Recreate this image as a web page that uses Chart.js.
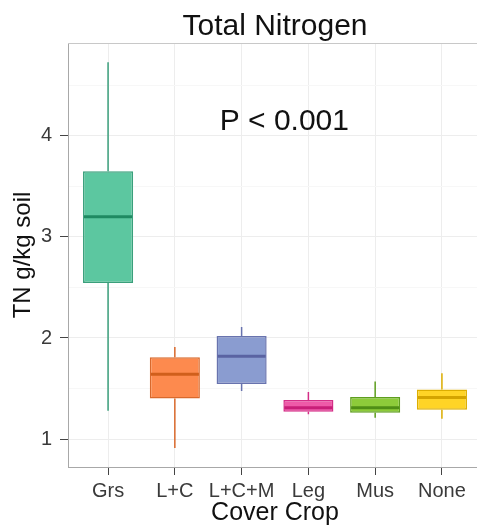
<!DOCTYPE html>
<html>
<head>
<meta charset="utf-8">
<script src="https://cdn.jsdelivr.net/npm/chart.js@4"></script>
<style>
  html, body { margin: 0; padding: 0; background: #fff; overflow: hidden; }
  #wrap { position: relative; width: 482px; height: 528px; }
</style>
</head>
<body>
<div id="wrap"><canvas id="boxChart"></canvas></div>
<script>
// categories and box plot statistics
var categories = ['Grs', 'L+C', 'L+C+M', 'Leg', 'Mus', 'None'];
var whiskerMax    = [4.73, 1.91, 2.11, 1.465, 1.57, 1.65];
var upperQuartile = [3.65, 1.81, 2.02, 1.385, 1.415, 1.49];
var medianValue   = [3.20, 1.64, 1.82, 1.31, 1.31, 1.41];
var lowerQuartile = [2.545, 1.40, 1.545, 1.27, 1.26, 1.29];
var whiskerMin    = [1.28, 0.91, 1.475, 1.245, 1.21, 1.20];

var yTicks = [1, 2, 3, 4];

var fillColors   = ['#5CC7A0', '#FD8A4E', '#8A9CD0', '#EE5AA8', '#8DCB3A', '#FFD426'];
var lineColors   = ['#3A9F7B', '#D9692C', '#6873AE', '#D42D87', '#5E9E1E', '#DDAE00'];
var medianColors = ['#1F8A62', '#D05F1C', '#5A63A2', '#C81E78', '#4F8E16', '#D4A400'];

var titleText = 'Total Nitrogen';
var pText = 'P < 0.001';
var pTextPos = { x: 2.64, y: 4.06 };

var FONT = '"Liberation Sans", Arial, sans-serif';

// whiskers behind the boxes, medians on top, plus title and p-value text
var boxPlotPlugin = {
    id: 'boxPlot',
    beforeDatasetsDraw: function(chart) {
        var ctx = chart.ctx;
        var y = chart.scales.y;
        var meta = chart.getDatasetMeta(0);
        ctx.save();
        ctx.lineWidth = 1.5;
        meta.data.forEach(function(bar, i) {
            ctx.strokeStyle = lineColors[i];
            ctx.beginPath();
            ctx.moveTo(bar.x, y.getPixelForValue(whiskerMax[i]));
            ctx.lineTo(bar.x, y.getPixelForValue(upperQuartile[i]));
            ctx.moveTo(bar.x, y.getPixelForValue(lowerQuartile[i]));
            ctx.lineTo(bar.x, y.getPixelForValue(whiskerMin[i]));
            ctx.stroke();
        });
        ctx.restore();
    },
    afterDatasetsDraw: function(chart) {
        var ctx = chart.ctx;
        var x = chart.scales.x;
        var y = chart.scales.y;
        var meta = chart.getDatasetMeta(0);
        var area = chart.chartArea;
        ctx.save();
        ctx.lineWidth = 3;
        meta.data.forEach(function(bar, i) {
            var half = bar.width / 2 - 1;
            var my = y.getPixelForValue(medianValue[i]);
            ctx.strokeStyle = medianColors[i];
            ctx.beginPath();
            ctx.moveTo(bar.x - half, my);
            ctx.lineTo(bar.x + half, my);
            ctx.stroke();
        });

        // top border of the panel
        ctx.lineWidth = 1;
        ctx.strokeStyle = '#C8C8C8';
        ctx.beginPath();
        ctx.moveTo(area.left, area.top + 0.5);
        ctx.lineTo(area.right, area.top + 0.5);
        ctx.stroke();

        // title
        ctx.fillStyle = '#111';
        ctx.font = '30px ' + FONT;
        ctx.textAlign = 'center';
        ctx.textBaseline = 'alphabetic';
        ctx.fillText(titleText, (area.left + area.right) / 2, 35);

        // p-value
        ctx.fillText(pText, x.getPixelForValue(pTextPos.x), y.getPixelForValue(pTextPos.y));
        ctx.restore();
    }
};

var ctx = document.getElementById('boxChart').getContext('2d');
window.myChart = new Chart(ctx, {
    type: 'bar',
    data: {
        datasets: [{
            data: categories.map(function(c, i) {
                return { x: i, y: [lowerQuartile[i], upperQuartile[i]] };
            }),
            backgroundColor: fillColors,
            borderColor: lineColors,
            borderWidth: 1.5,
            borderSkipped: false,
            barPercentage: 0.75,
            categoryPercentage: 1
        }]
    },
    options: {
        responsive: true,
        maintainAspectRatio: false,
        animation: false,
        layout: { padding: { left: 0, right: 0, top: 43, bottom: 0 } },
        plugins: {
            legend: { display: false },
            tooltip: { enabled: false },
            title: { display: false }
        },
        scales: {
            x: {
                type: 'linear',
                min: -0.6,
                max: 5.6,
                offset: false,
                afterBuildTicks: function(axis) {
                    axis.ticks = categories.map(function(c, i) { return { value: i }; });
                },
                afterFit: function(scale) { scale.height = 61; },
                grid: {
                    offset: false,
                    color: '#EDEDED',
                    tickColor: '#444',
                    tickLength: 8,
                    drawOnChartArea: true
                },
                border: { color: '#A8A8A8', width: 1 },
                ticks: {
                    autoSkip: false,
                    maxRotation: 0,
                    padding: 4,
                    color: '#3a3a3a',
                    font: { family: FONT, size: 20 },
                    callback: function(value) { return categories[value]; }
                },
                title: {
                    display: true,
                    text: 'Cover Crop',
                    color: '#111',
                    padding: { top: 0, bottom: 0 },
                    font: { family: FONT, size: 25 }
                }
            },
            y: {
                min: 0.723,
                max: 4.92,
                afterBuildTicks: function(axis) {
                    var t = [];
                    yTicks.forEach(function(v) {
                        t.push({ value: v });
                        t.push({ value: v + 0.5 });
                    });
                    axis.ticks = t;
                },
                afterFit: function(scale) { scale.width = 68; },
                grid: {
                    color: function(c) { return Number.isInteger(c.tick.value) ? '#EDEDED' : '#F7F7F7'; },
                    tickColor: function(c) { return Number.isInteger(c.tick.value) ? '#444' : 'rgba(0,0,0,0)'; },
                    tickLength: 8
                },
                border: { color: '#A8A8A8', width: 1 },
                ticks: {
                    padding: 8,
                    color: '#3a3a3a',
                    font: { family: FONT, size: 20 },
                    callback: function(value) { return Number.isInteger(value) ? value : ''; }
                },
                title: {
                    display: true,
                    text: 'TN g/kg soil',
                    color: '#111',
                    padding: { top: 9, bottom: 0 },
                    font: { family: FONT, size: 24 }
                }
            }
        }
    },
    plugins: [boxPlotPlugin]
});
</script>
</body>
</html>
